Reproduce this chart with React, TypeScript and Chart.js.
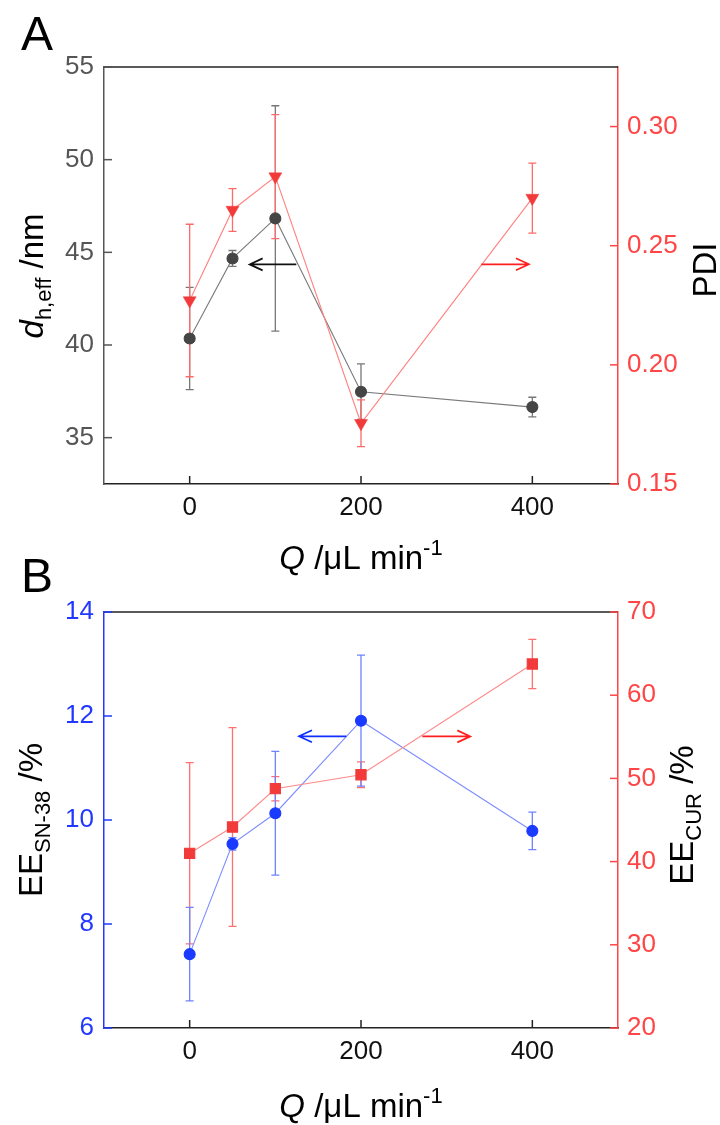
import React, { useEffect, useRef } from 'react';
import { Chart, registerables } from 'chart.js';

Chart.register(...registerables);

// ---------------- data ----------------
const flowRates = [0, 50, 100, 200, 400];
const dhValues = [40.35, 44.67, 46.83, 37.48, 36.65];
const dhErrors = [2.76, 0.43, 6.08, 1.5, 0.53];
const pdiValues = [0.227, 0.265, 0.279, 0.1755, 0.27];
const pdiErrors = [0.032, 0.009, 0.026, 0.0098, 0.0147];
const eeSnValues = [7.42, 9.54, 10.13, 11.91, 9.79];
const eeSnErrors = [0.9, 0.12, 1.19, 1.26, 0.36];
const eeCurValues = [41.0, 44.16, 48.76, 50.44, 63.75];
const eeCurErrors = [10.9, 11.94, 1.45, 1.55, 2.95];
const xTicks = [0, 200, 400];
const dhTicks = [35, 40, 45, 50, 55];
const pdiTicks = [0.15, 0.2, 0.25, 0.3];
const eeSnTicks = [6, 8, 10, 12, 14];
const eeCurTicks = [20, 30, 40, 50, 60, 70];
// arrow annotations: [xFrom, xTo, y]
const arrowDh = [124.5, 70, 44.35];
const arrowPdi = [340.5, 396, 0.2422];
const arrowSn = [182.9, 127.6, 11.61];
const arrowCur = [271.6, 327.6, 55.05];

const FONT = '"Liberation Sans", Arial, Helvetica, sans-serif';
const W = 720;
const RED = '#ff4545';
const BLUE = '#2238ff';
const GRAY = '#555555';

type Seg = { t: string; it?: boolean; sub?: boolean; sup?: boolean };

function drawRich(ctx: CanvasRenderingContext2D, segs: Seg[], x: number, y: number, size: number, color: string, rotate: boolean) {
  ctx.save();
  ctx.translate(x, y);
  if (rotate) ctx.rotate(-Math.PI / 2);
  const fontFor = (s: Seg) => `${s.it ? 'italic ' : ''}${s.sub || s.sup ? Math.round(size * 0.68) : size}px ${FONT}`;
  let total = 0;
  const widths = segs.map((s) => {
    ctx.font = fontFor(s);
    const w = ctx.measureText(s.t).width;
    total += w;
    return w;
  });
  let cx = -total / 2;
  ctx.fillStyle = color;
  ctx.textBaseline = 'alphabetic';
  ctx.textAlign = 'left';
  segs.forEach((s, i) => {
    ctx.font = fontFor(s);
    const dy = s.sub ? size * 0.24 : s.sup ? -size * 0.42 : 0;
    ctx.fillText(s.t, cx, dy);
    cx += widths[i];
  });
  ctx.restore();
}

function inwardTicks(ctx: CanvasRenderingContext2D, chart: any, scaleId: string, values: number[], side: string, color: string) {
  const s = chart.scales[scaleId];
  const a = chart.chartArea;
  const L = 8;
  ctx.save();
  ctx.strokeStyle = color;
  ctx.lineWidth = 1.5;
  values.forEach((v) => {
    const p = s.getPixelForValue(v);
    ctx.beginPath();
    if (side === 'left') {
      ctx.moveTo(a.left, p);
      ctx.lineTo(a.left + L, p);
    } else if (side === 'right') {
      ctx.moveTo(a.right, p);
      ctx.lineTo(a.right - L, p);
    } else {
      ctx.moveTo(p, a.bottom);
      ctx.lineTo(p, a.bottom - L);
    }
    ctx.stroke();
  });
  ctx.restore();
}

function errorBars(ctx: CanvasRenderingContext2D, chart: any, yId: string, values: number[], errors: number[], color: string) {
  const xs = chart.scales.x;
  const ys = chart.scales[yId];
  ctx.save();
  ctx.strokeStyle = color;
  ctx.lineWidth = 1.3;
  flowRates.forEach((q, i) => {
    const px = xs.getPixelForValue(q);
    const y1 = ys.getPixelForValue(values[i] + errors[i]);
    const y2 = ys.getPixelForValue(values[i] - errors[i]);
    ctx.beginPath();
    ctx.moveTo(px, y1);
    ctx.lineTo(px, y2);
    ctx.moveTo(px - 4, y1);
    ctx.lineTo(px + 4, y1);
    ctx.moveTo(px - 4, y2);
    ctx.lineTo(px + 4, y2);
    ctx.stroke();
  });
  ctx.restore();
}

function arrow(ctx: CanvasRenderingContext2D, chart: any, yId: string, spec: number[], color: string) {
  const xs = chart.scales.x;
  const ys = chart.scales[yId];
  const p0 = xs.getPixelForValue(spec[0]);
  const p1 = xs.getPixelForValue(spec[1]);
  const py = ys.getPixelForValue(spec[2]);
  const dir = Math.sign(p1 - p0);
  ctx.save();
  ctx.strokeStyle = color;
  ctx.lineWidth = 1.7;
  ctx.beginPath();
  ctx.moveTo(p0, py);
  ctx.lineTo(p1, py);
  ctx.moveTo(p1 - dir * 13, py - 6);
  ctx.lineTo(p1, py);
  ctx.lineTo(p1 - dir * 13, py + 6);
  ctx.stroke();
  ctx.restore();
}

function topBorder(ctx: CanvasRenderingContext2D, chart: any) {
  const a = chart.chartArea;
  ctx.save();
  ctx.strokeStyle = '#222';
  ctx.lineWidth = 1.5;
  ctx.beginPath();
  ctx.moveTo(a.left, a.top);
  ctx.lineTo(a.right, a.top);
  ctx.stroke();
  ctx.restore();
}

function tickFont() {
  return { family: FONT, size: 26 };
}

function makeScales(opts: any) {
  const { H, bottom, yL, yR } = opts;
  return {
    x: {
      type: 'linear',
      position: 'bottom',
      min: -100,
      max: 500,
      afterBuildTicks: (s: any) => {
        s.ticks = xTicks.map((v) => ({ value: v }));
      },
      afterFit: (s: any) => {
        s.height = H - bottom;
      },
      grid: { display: false, drawTicks: false },
      border: { display: true, color: '#222', width: 1.5 },
      ticks: { font: tickFont(), color: '#111', padding: 8, maxRotation: 0, autoSkip: false, callback: (v: any) => String(v) },
    },
    yL: {
      type: 'linear',
      position: 'left',
      min: yL.min,
      max: yL.max,
      afterBuildTicks: (s: any) => {
        s.ticks = yL.ticks.map((v: number) => ({ value: v }));
      },
      afterFit: (s: any) => {
        s.width = 104;
      },
      grid: { display: false, drawTicks: false },
      border: { display: true, color: yL.color, width: 1.5 },
      ticks: { font: tickFont(), color: yL.color, padding: 10, autoSkip: false, callback: yL.fmt },
    },
    yR: {
      type: 'linear',
      position: 'right',
      min: yR.min,
      max: yR.max,
      afterBuildTicks: (s: any) => {
        s.ticks = yR.ticks.map((v: number) => ({ value: v }));
      },
      afterFit: (s: any) => {
        s.width = W - 618;
      },
      grid: { display: false, drawTicks: false },
      border: { display: true, color: yR.color, width: 1.5 },
      ticks: { font: tickFont(), color: yR.color, padding: 9, autoSkip: false, callback: yR.fmt },
    },
  };
}

export default function App() {
  const refA = useRef<HTMLCanvasElement>(null);
  const refB = useRef<HTMLCanvasElement>(null);

  useEffect(() => {
    const HA = 600;
    const topB = 540;
    const HB = 1125 - topB;

    const pts = (vals: number[]) => flowRates.map((q, i) => ({ x: q, y: vals[i] }));

    const chartA = new Chart(refA.current as HTMLCanvasElement, {
      type: 'scatter',
      data: {
        datasets: [
          {
            label: 'PDI',
            data: pts(pdiValues),
            yAxisID: 'yR',
            showLine: true,
            borderColor: '#ff8080',
            borderWidth: 1.1,
            pointStyle: 'triangle',
            rotation: 180,
            pointRadius: 7.5,
            pointBackgroundColor: '#f23a3a',
            pointBorderColor: '#f23a3a',
            pointBorderWidth: 0.5,
            tension: 0,
          } as any,
          {
            label: 'dh',
            data: pts(dhValues),
            yAxisID: 'yL',
            showLine: true,
            borderColor: '#7a7a7a',
            borderWidth: 1.1,
            pointStyle: 'circle',
            pointRadius: 5.5,
            pointBackgroundColor: '#454545',
            pointBorderColor: '#454545',
            tension: 0,
          } as any,
        ],
      },
      options: {
        animation: false,
        responsive: false,
        devicePixelRatio: 1,
        layout: { padding: { top: 67, left: 0, right: 0, bottom: 0 } },
        plugins: { legend: { display: false }, tooltip: { enabled: false } },
        scales: makeScales({
          H: HA,
          bottom: 484,
          yL: { min: 32.5, max: 55, ticks: dhTicks, color: GRAY, fmt: (v: any) => String(v) },
          yR: { min: 0.15, max: 0.325, ticks: pdiTicks, color: RED, fmt: (v: any) => Number(v).toFixed(2) },
        }) as any,
      },
      plugins: [
        {
          id: 'decorA',
          beforeDatasetsDraw(chart: any) {
            const ctx = chart.ctx;
            errorBars(ctx, chart, 'yL', dhValues, dhErrors, '#777777');
            errorBars(ctx, chart, 'yR', pdiValues, pdiErrors, '#ff6a6a');
          },
          afterDraw(chart: any) {
            const ctx = chart.ctx;
            topBorder(ctx, chart);
            inwardTicks(ctx, chart, 'x', xTicks, 'bottom', '#222');
            inwardTicks(ctx, chart, 'yL', dhTicks, 'left', GRAY);
            inwardTicks(ctx, chart, 'yR', pdiTicks, 'right', RED);
            arrow(ctx, chart, 'yL', arrowDh, '#111');
            arrow(ctx, chart, 'yR', arrowPdi, '#ff2020');
            drawRich(ctx, [{ t: 'A' }], 37, 50, 48, '#000', false);
            drawRich(ctx, [{ t: 'd', it: true }, { t: 'h,eff', sub: true }, { t: ' /nm' }], 43, 276, 33, '#000', true);
            drawRich(ctx, [{ t: 'PDI' }], 716, 270, 33, '#000', true);
            drawRich(ctx, [{ t: 'Q', it: true }, { t: ' /\u03bcL min' }, { t: '-1', sup: true }], 361, 569, 33, '#000', false);
          },
        },
      ],
    });

    const chartB = new Chart(refB.current as HTMLCanvasElement, {
      type: 'scatter',
      data: {
        datasets: [
          {
            label: 'EE CUR',
            data: pts(eeCurValues),
            yAxisID: 'yR',
            showLine: true,
            borderColor: '#ff8a8a',
            borderWidth: 1.1,
            pointStyle: 'rect',
            pointRadius: 7.2,
            pointBackgroundColor: '#f23a3a',
            pointBorderColor: '#f23a3a',
            tension: 0,
          } as any,
          {
            label: 'EE SN-38',
            data: pts(eeSnValues),
            yAxisID: 'yL',
            showLine: true,
            borderColor: '#7d8cff',
            borderWidth: 1.1,
            pointStyle: 'circle',
            pointRadius: 5.5,
            pointBackgroundColor: '#1a3aff',
            pointBorderColor: '#1a3aff',
            tension: 0,
          } as any,
        ],
      },
      options: {
        animation: false,
        responsive: false,
        devicePixelRatio: 1,
        layout: { padding: { top: 612 - topB, left: 0, right: 0, bottom: 0 } },
        plugins: { legend: { display: false }, tooltip: { enabled: false } },
        scales: makeScales({
          H: HB,
          bottom: 1028 - topB,
          yL: { min: 6, max: 14, ticks: eeSnTicks, color: BLUE, fmt: (v: any) => String(v) },
          yR: { min: 20, max: 70, ticks: eeCurTicks, color: RED, fmt: (v: any) => String(v) },
        }) as any,
      },
      plugins: [
        {
          id: 'decorB',
          beforeDatasetsDraw(chart: any) {
            const ctx = chart.ctx;
            errorBars(ctx, chart, 'yR', eeCurValues, eeCurErrors, '#ff7070');
            errorBars(ctx, chart, 'yL', eeSnValues, eeSnErrors, '#6f82ff');
          },
          afterDraw(chart: any) {
            const ctx = chart.ctx;
            topBorder(ctx, chart);
            inwardTicks(ctx, chart, 'x', xTicks, 'bottom', '#222');
            inwardTicks(ctx, chart, 'yL', eeSnTicks, 'left', BLUE);
            inwardTicks(ctx, chart, 'yR', eeCurTicks, 'right', RED);
            arrow(ctx, chart, 'yL', arrowSn, '#1030ff');
            arrow(ctx, chart, 'yR', arrowCur, '#ff2020');
            drawRich(ctx, [{ t: 'B' }], 37, 592 - topB, 48, '#000', false);
            drawRich(ctx, [{ t: 'EE' }, { t: 'SN-38', sub: true }, { t: ' /%' }], 42, 820 - topB, 33, '#000', true);
            drawRich(ctx, [{ t: 'EE' }, { t: 'CUR', sub: true }, { t: ' /%' }], 693, 815 - topB, 33, '#000', true);
            drawRich(ctx, [{ t: 'Q', it: true }, { t: ' /\u03bcL min' }, { t: '-1', sup: true }], 361, 1117 - topB, 33, '#000', false);
          },
        },
      ],
    });

    return () => {
      chartA.destroy();
      chartB.destroy();
    };
  }, []);

  return (
    <div style={{ position: 'absolute', left: 0, top: 0, width: 720, height: 1125, background: '#fff' }}>
      <canvas ref={refA} width={720} height={600} style={{ position: 'absolute', left: 0, top: 0, width: 720, height: 600 }} />
      <canvas ref={refB} width={720} height={585} style={{ position: 'absolute', left: 0, top: 540, width: 720, height: 585 }} />
    </div>
  );
}
